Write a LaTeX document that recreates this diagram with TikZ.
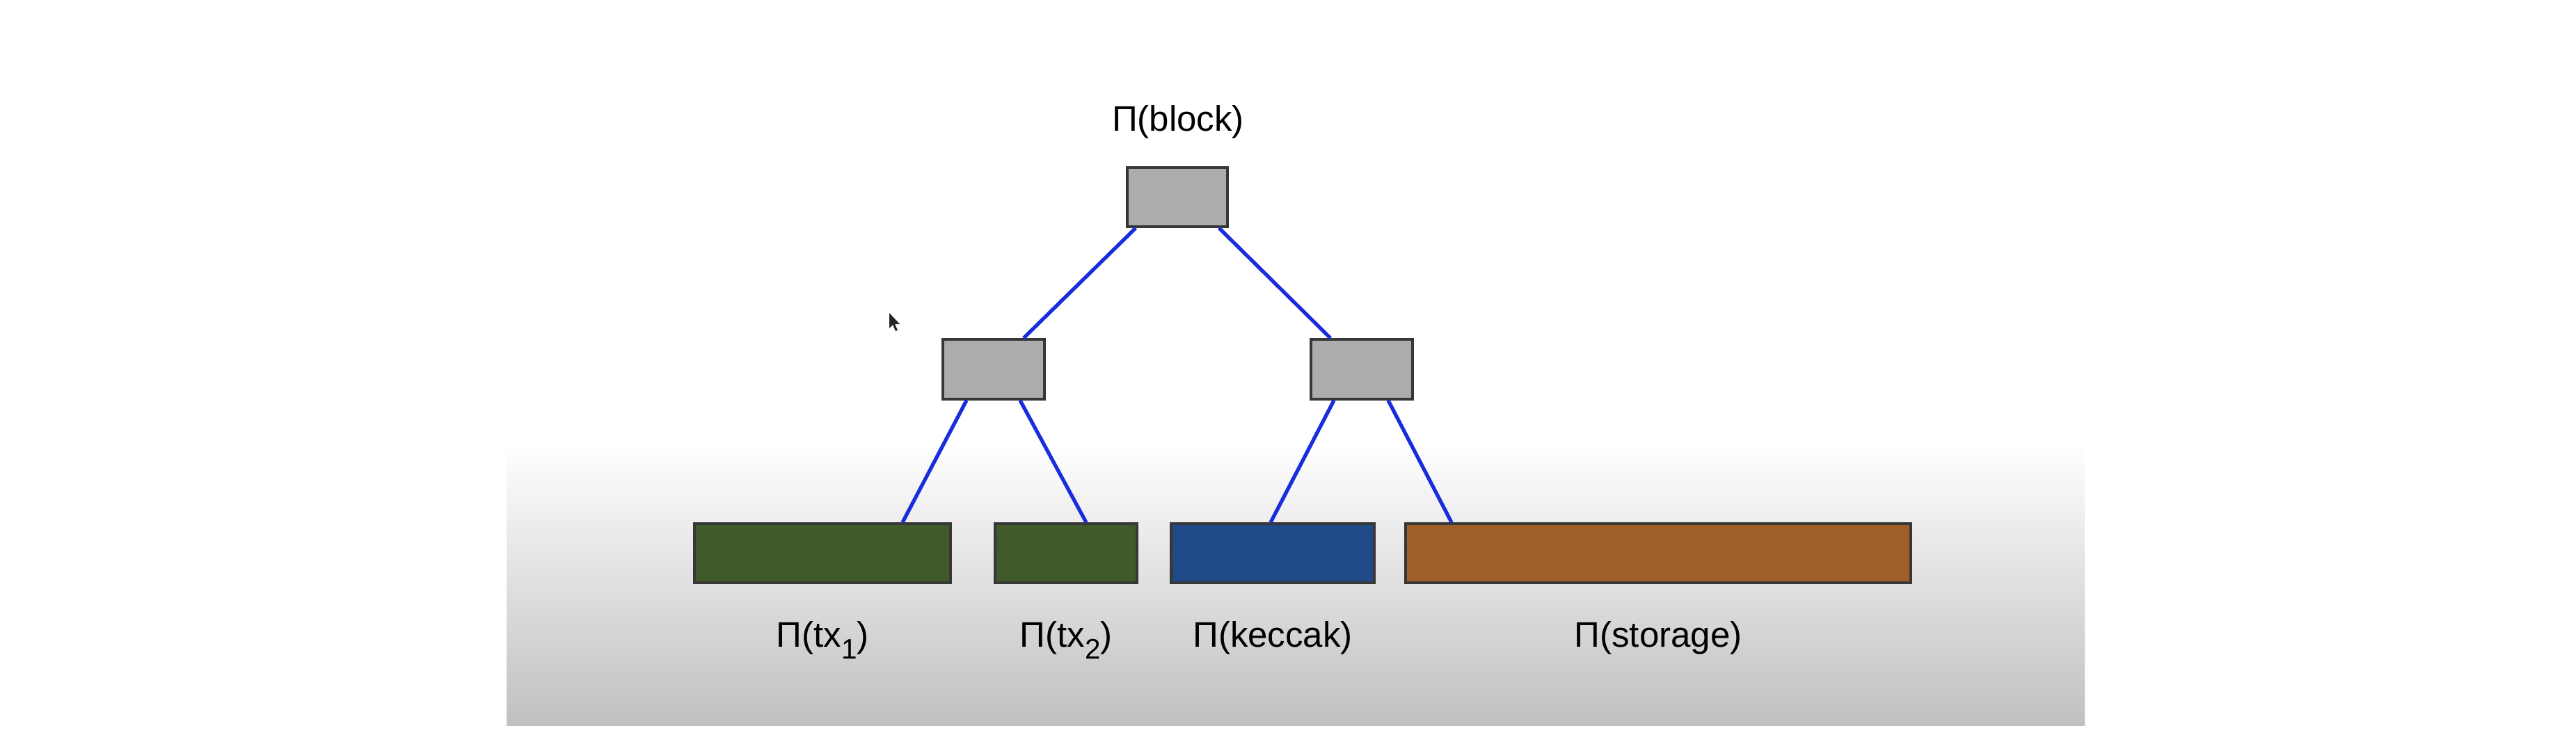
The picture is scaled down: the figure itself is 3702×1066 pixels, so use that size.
\documentclass[tikz,border=0pt]{standalone}
\usepackage{fontspec}
\setmainfont{Liberation Sans}
\usetikzlibrary{calc}
\definecolor{boxgray}{RGB}{172,172,172}
\definecolor{edgegray}{RGB}{55,55,55}
\definecolor{leafgreen}{RGB}{65,90,42}
\definecolor{leafblue}{RGB}{31,74,135}
\definecolor{leaforange}{RGB}{161,95,40}
\definecolor{linkblue}{RGB}{25,45,220}
\definecolor{panelbot}{RGB}{192,192,192}
\begin{document}
\begin{tikzpicture}[x=0.01cm,y=-0.01cm,
  box/.style={draw=edgegray, line width=1pt, inner sep=0pt, minimum height=0.85cm},
  hashbox/.style={box, fill=boxgray, minimum width=1.45cm},
  link/.style={draw=linkblue, line width=1.5pt},
  lbl/.style={font=\fontsize{14.5}{17}\selectfont, inner sep=0pt, anchor=base}]
\newcommand{\subdig}[1]{\raisebox{-0.17cm}{\fontsize{11.5}{11.5}\selectfont #1}}
% canvas
\fill[white] (0,0) rectangle (3702,1066);
\useasboundingbox (0,0) rectangle (3702,1066);
% gradient panel
\shade[top color=white, bottom color=panelbot] (728,637) rectangle (2996,1043);
% mouse cursor
\fill[black, opacity=0.85] (1278,450) -- (1278,472) -- (1283,467) -- (1287,476) -- (1290,475) -- (1286,466) -- (1293,466) -- cycle;
% nodes
\node[hashbox, minimum width=1.44cm] (top) at (1692,283.5) {};
\node[hashbox, minimum width=1.46cm, minimum height=0.86cm] (midL) at (1428,531) {};
\node[hashbox, minimum width=1.46cm, minimum height=0.86cm] (midR) at (1957,531) {};
\node[box, fill=leafgreen, minimum width=3.68cm] (g1) at (1182,795.5) {};
\node[box, fill=leafgreen, minimum width=2.04cm] (g2) at (1532,795.5) {};
\node[box, fill=leafblue, minimum width=2.92cm] (kc) at (1829,795.5) {};
\node[box, fill=leaforange, minimum width=7.26cm] (st) at (2383,795.5) {};
% labels
\node[lbl] (lblock) at (1693,188) {Π(block)};
\node[lbl] (ltx1) at (1182,930) {Π(tx\subdig{1})};
\node[lbl] (ltx2) at (1532,930) {Π(tx\subdig{2})};
\node[lbl] (lkc) at (1829,930) {Π(keccak)};
\node[lbl] (lst) at (2383,930) {Π(storage)};
% links
\draw[link] ($(top.south west)+(14,0)$) -- ($(midL.north)+(43,0)$);
\draw[link] ($(top.south east)+(-14,0)$) -- ($(midR.north)+(-45,0)$);
\draw[link] ($(midL.south)+(-39,0)$) -- ($(g1.north)+(115,0)$);
\draw[link] ($(midL.south)+(38,0)$) -- ($(g2.north)+(29,0)$);
\draw[link] ($(midR.south)+(-40,0)$) -- ($(kc.north)+(-3,0)$);
\draw[link] ($(midR.south)+(38,0)$) -- ($(st.north west)+(68,0)$);
\end{tikzpicture}
\end{document}
